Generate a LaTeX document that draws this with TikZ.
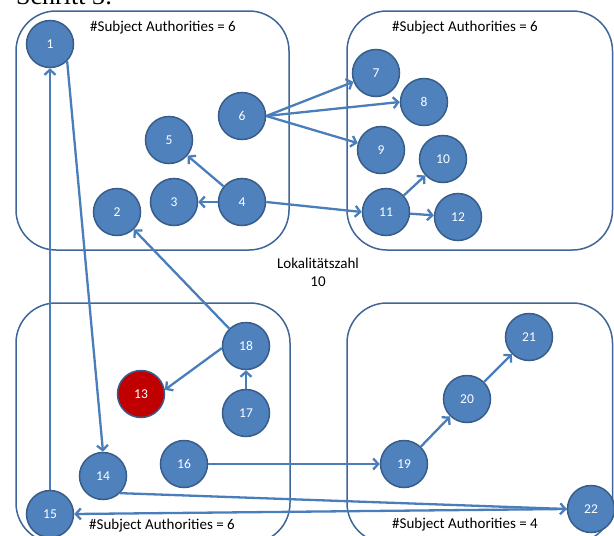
\documentclass[tikz,border=0pt]{standalone}
\usepackage{fontspec}
\setmainfont{Carlito}
\newfontfamily\titlefont{Liberation Serif}
\usetikzlibrary{arrows.meta}
\definecolor{nodefill}{HTML}{4F81BD}
\definecolor{nodeborder}{HTML}{385D8A}
\definecolor{redfill}{HTML}{C00000}
\definecolor{edgecol}{HTML}{4A7EBB}
\definecolor{boxcol}{HTML}{3F6698}
\begin{document}
\begin{tikzpicture}[x=1pt,y=-1pt,
  vert/.style={circle,draw=nodeborder,line width=1.5pt,fill=nodefill,minimum size=47pt,inner sep=0pt,text=white,font=\fontsize{13.5}{14}\selectfont},
  redvert/.style={vert,fill=redfill},
  conn/.style={draw=edgecol,line width=2.3pt,-{Straight Barb[length=5pt,width=11pt]}},
  region/.style={draw=boxcol,line width=1.5pt,rounded corners=40pt},
  info/.style={font=\fontsize{15}{16}\selectfont,inner sep=0pt}]
\useasboundingbox (0,0) rectangle (614,536);
\clip (0,0) rectangle (614,536);
% title (cut off at top, as in the reference)
\node[anchor=base west,inner sep=0pt,font=\titlefont\fontsize{26}{28}\selectfont] (title) at (16,4) {Schritt 3:};
% regions
\draw[region] (16,11) rectangle (289,250);
\draw[region] (347,11) rectangle (612.5,250);
\draw[region] (16,303) rectangle (290,543);
\draw[region] (347,303) rectangle (612.5,543);
% labels
\node[info] (sa1) at (163,28) {\#Subject Authorities = 6};
\node[info] (sa2) at (465,28) {\#Subject Authorities = 6};
\node[info] (sa3) at (162,526) {\#Subject Authorities = 6};
\node[info] (sa4) at (465,525) {\#Subject Authorities = 4};
\node[info,align=center,font=\fontsize{15}{18}\selectfont] (lok) at (318,272) {Lokalitätszahl\\10};
% vertices
\node[vert] (n1) at (50,44) {1};
\node[vert] (n2) at (117,212) {2};
\node[vert] (n3) at (174,202) {3};
\node[vert] (n4) at (242,202) {4};
\node[vert] (n5) at (169,140) {5};
\node[vert] (n6) at (242,116) {6};
\node[vert] (n7) at (376,73) {7};
\node[vert] (n8) at (424,102) {8};
\node[vert] (n9) at (381,150) {9};
\node[vert] (n10) at (443,159) {10};
\node[vert] (n11) at (386,212) {11};
\node[vert] (n12) at (458,217) {12};
\node[redvert] (n13) at (141,394) {13};
\node[vert] (n14) at (103,476) {14};
\node[vert] (n15) at (50,514) {15};
\node[vert] (n16) at (184,464) {16};
\node[vert] (n17) at (246,413) {17};
\node[vert] (n18) at (246,346) {18};
\node[vert] (n19) at (404,464) {19};
\node[vert] (n20) at (467,399) {20};
\node[vert] (n21) at (529,337) {21};
\node[vert] (n22) at (591,509) {22};
% connectors
\draw[conn] (n15.north) -- (n1.south);
\draw[conn] (n1.south east) -- (n14.north);
\draw[conn] (n4) -- (n5);
\draw[conn] (n4.west) -- (n3.east);
\draw[conn] (n4.east) -- (n11.west);
\draw[conn] (n6.east) -- (n7);
\draw[conn] (n6.east) -- (n8.west);
\draw[conn] (n6.east) -- (n9);
\draw[conn] (n11) -- (n10);
\draw[conn] (n11) -- (n12);
\draw[conn] (n18) -- (n2);
\draw[conn] (n18.185) -- (n13.10);
\draw[conn] (n17.north) -- (n18.south);
\draw[conn] (n16.east) -- (n19.west);
\draw[conn] (n19) -- (n20);
\draw[conn] (n20) -- (n21);
\draw[conn] (n14.south east) -- (n22.west);
\draw[conn] (n22.west) -- (n15.east);
\end{tikzpicture}
\end{document}
